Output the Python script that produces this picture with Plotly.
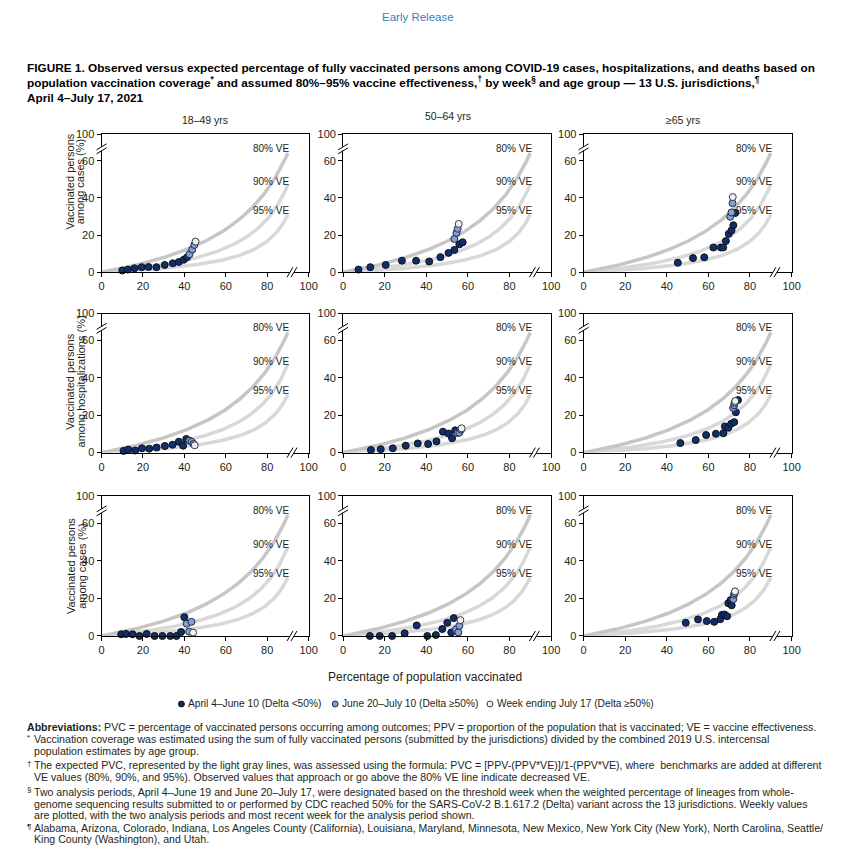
import numpy as np
import plotly.graph_objects as go

W, H = 842, 849

# ---------------- data ----------------
age_groups = ["18–49 yrs", "50–64 yrs", "≥65 yrs"]
row_titles = [["Vaccinated persons", "among cases (%)"],
              ["Vaccinated persons", "among hospitalizations (%)"],
              ["Vaccinated persons", "among cases (%)"]]
series_names = ["April 4–June 10 (Delta <50%)",
                "June 20–July 10 (Delta ≥50%)",
                "Week ending July 17 (Delta ≥50%)"]
ve_levels = [0.80, 0.90, 0.95]
ve_labels = ["80% VE", "90% VE", "95% VE"]
x_ticks = [0, 20, 40, 60, 80, 100]
y_tick_labels = ["0", "20", "40", "60", "100"]

# Row 1 – cases
cas_1849_early_x = [10.0, 12.7, 15.9, 19.4, 22.7, 26.5, 30.5, 34.4, 37.3, 39.7, 41.3]
cas_1849_early_y = [0.9, 1.4, 2.1, 2.7, 2.8, 2.7, 3.9, 4.8, 5.5, 6.7, 8.0]
cas_1849_delta_x = [42.5, 43.8, 44.8]
cas_1849_delta_y = [9.7, 12.2, 14.7]
cas_1849_last_x = [45.4]
cas_1849_last_y = [16.5]

cas_5064_early_x = [7.4, 13.1, 20.5, 28.3, 35.1, 41.4, 46.8, 50.7, 53.5, 55.9, 57.5]
cas_5064_early_y = [1.4, 2.7, 3.9, 6.2, 6.2, 5.8, 8.1, 10.4, 12.0, 15.0, 16.1]
cas_5064_delta_x = [53.5, 54.5, 55.1]
cas_5064_delta_y = [17.9, 21.2, 23.4]
cas_5064_last_x = [55.6]
cas_5064_last_y = [26.0]

cas_65_early_x = [45.3, 52.6, 58.0, 62.4, 66.0, 67.1, 68.4, 69.8, 71.1, 72.0, 72.9]
cas_65_early_y = [5.1, 7.6, 8.0, 13.3, 13.3, 13.3, 16.8, 20.7, 22.5, 25.3, 31.9]
cas_65_delta_x = [70.5, 71.1, 71.6]
cas_65_delta_y = [29.9, 32.2, 37.2]
cas_65_last_x = [71.7]
cas_65_last_y = [40.5]

# Row 2 – hospitalizations
hos_1849_early_x = [10.6, 12.9, 16.2, 19.5, 23.0, 26.6, 30.6, 34.3, 37.3, 39.4, 40.9]
hos_1849_early_y = [0.9, 1.6, 1.1, 2.3, 2.1, 2.7, 3.5, 4.2, 5.8, 3.7, 7.3]
hos_1849_delta_x = [42.4, 43.5, 44.4]
hos_1849_delta_y = [6.4, 5.8, 4.6]
hos_1849_last_x = [45.0]
hos_1849_last_y = [3.9]

hos_5064_early_x = [13.4, 18.1, 23.9, 30.1, 35.9, 40.9, 44.9, 48.0, 50.7, 52.4, 53.9]
hos_5064_early_y = [1.4, 1.8, 2.3, 3.7, 4.9, 4.6, 6.0, 11.2, 10.2, 7.7, 11.9]
hos_5064_delta_x = [55.0, 55.9, 56.7]
hos_5064_delta_y = [10.5, 10.7, 12.3]
hos_5064_last_x = [57.0]
hos_5064_last_y = [13.0]

hos_65_early_x = [46.5, 53.9, 58.9, 63.6, 67.2, 67.9, 69.6, 70.9, 72.4, 73.2, 74.2]
hos_65_early_y = [5.1, 6.7, 9.4, 10.1, 10.4, 14.0, 13.3, 15.4, 16.3, 21.6, 28.1]
hos_65_delta_x = [71.9, 72.4, 72.6]
hos_65_delta_y = [23.9, 25.3, 26.6]
hos_65_last_x = [72.9]
hos_65_last_y = [27.6]

# Row 3 – deaths (labelled "cases" in the source)
dea_1849_early_x = [9.5, 11.8, 15.0, 18.3, 21.8, 25.6, 29.4, 33.2, 36.2, 38.4, 40.0]
dea_1849_early_y = [0.9, 1.1, 0.9, 0.0, 1.1, 0.0, 0.0, 0.0, 0.0, 2.1, 10.0]
dea_1849_delta_x = [41.1, 43.4, 42.3]
dea_1849_delta_y = [6.5, 7.5, 2.3]
dea_1849_last_x = [44.2]
dea_1849_last_y = [1.8]

dea_5064_early_x = [12.9, 17.6, 23.6, 29.6, 35.4, 40.5, 44.6, 47.7, 50.1, 52.0, 53.2]
dea_5064_early_y = [0.0, 0.0, 0.0, 1.4, 5.6, 0.0, 0.5, 3.7, 7.0, 1.9, 9.5]
dea_5064_delta_x = [54.3, 55.4, 55.9]
dea_5064_delta_y = [3.5, 1.9, 5.4]
dea_5064_last_x = [56.4]
dea_5064_last_y = [8.4]

dea_65_early_x = [49.1, 55.0, 59.2, 62.8, 65.7, 66.5, 67.7, 69.0, 69.6, 70.7, 71.2]
dea_65_early_y = [7.0, 8.8, 7.9, 7.5, 8.9, 11.2, 11.4, 10.5, 17.4, 19.1, 16.3]
dea_65_delta_x = [72.0, 72.3, 72.6]
dea_65_delta_y = [19.6, 21.9, 22.8]
dea_65_last_x = [72.8]
dea_65_last_y = [23.7]

panels = [
    [(cas_1849_early_x, cas_1849_early_y), (cas_1849_delta_x, cas_1849_delta_y), (cas_1849_last_x, cas_1849_last_y)],
    [(cas_5064_early_x, cas_5064_early_y), (cas_5064_delta_x, cas_5064_delta_y), (cas_5064_last_x, cas_5064_last_y)],
    [(cas_65_early_x, cas_65_early_y), (cas_65_delta_x, cas_65_delta_y), (cas_65_last_x, cas_65_last_y)],
    [(hos_1849_early_x, hos_1849_early_y), (hos_1849_delta_x, hos_1849_delta_y), (hos_1849_last_x, hos_1849_last_y)],
    [(hos_5064_early_x, hos_5064_early_y), (hos_5064_delta_x, hos_5064_delta_y), (hos_5064_last_x, hos_5064_last_y)],
    [(hos_65_early_x, hos_65_early_y), (hos_65_delta_x, hos_65_delta_y), (hos_65_last_x, hos_65_last_y)],
    [(dea_1849_early_x, dea_1849_early_y), (dea_1849_delta_x, dea_1849_delta_y), (dea_1849_last_x, dea_1849_last_y)],
    [(dea_5064_early_x, dea_5064_early_y), (dea_5064_delta_x, dea_5064_delta_y), (dea_5064_last_x, dea_5064_last_y)],
    [(dea_65_early_x, dea_65_early_y), (dea_65_delta_x, dea_65_delta_y), (dea_65_last_x, dea_65_last_y)],
]

# ---------------- styling ----------------
TXT = "#231f20"
SANS = "Liberation Sans, Arial, sans-serif"
marker_fill = ["#0e2e6e", "#86a1cf", "#eef2f8"]
marker_line = ["#111111", "#1b2a4a", "#3a3a3a"]
curve_colors = ["#c6c6c6", "#d8d8d8", "#d8d8d8"]

Y_TOP = 74.4          # axis position where the broken axis shows "100"
Y_BREAK = 66.5
X_BREAK = 92

col_dom = [(100, 310), (345, 556), (589, 800)]
row_dom = [(130, 270), (312, 453), (497, 639)]


def px(x):
    return x / W


def py(y):
    return 1 - y / H


fig = go.Figure()
layout = dict(width=W, height=H, margin=dict(l=0, r=0, t=0, b=0),
              paper_bgcolor="white", plot_bgcolor="white", showlegend=False)
annotations = []
shapes = []

ppv = np.linspace(0, 0.9, 181)


def note(x, y, text, size, xanchor="center", color=TXT, angle=0):
    annotations.append(dict(x=px(x), y=py(y), xref="paper", yref="paper", text=text,
                            showarrow=False, xanchor=xanchor, yanchor="middle",
                            textangle=angle, font=dict(family=SANS, size=size, color=color)))


for k in range(9):
    r, c = divmod(k, 3)
    ax = "" if k == 0 else str(k + 1)
    xa, ya = "x" + ax, "y" + ax
    layout["xaxis" + ax] = dict(
        domain=[px(col_dom[c][0]), px(col_dom[c][1])], range=[0, 100], anchor=ya,
        tickvals=x_ticks, ticks="outside", ticklen=4, tickcolor="black",
        showline=True, linecolor="black", linewidth=1, mirror=True,
        showgrid=False, zeroline=False,
        tickfont=dict(family=SANS, size=11, color=TXT))
    layout["yaxis" + ax] = dict(
        domain=[py(row_dom[r][1]), py(row_dom[r][0])], range=[0, Y_TOP], anchor=xa,
        tickvals=[0, 20, 40, 60, Y_TOP], ticktext=y_tick_labels,
        ticks="outside", ticklen=4, tickcolor="black",
        showline=True, linecolor="black", linewidth=1, mirror=True,
        showgrid=False, zeroline=False,
        tickfont=dict(family=SANS, size=11, color=TXT))

    # expected PVC curves: PVC = (PPV - PPV*VE) / (1 - PPV*VE)
    for ve, col in zip(ve_levels[::-1], curve_colors[::-1]):
        pvc = (ppv - ppv * ve) / (1 - ppv * ve) * 100
        fig.add_trace(go.Scatter(x=ppv * 100, y=pvc, mode="lines", xaxis=xa, yaxis=ya,
                                 line=dict(color=col, width=3.5), hoverinfo="skip"))
    # observed points
    for s, (xs, ys) in enumerate(panels[k]):
        fig.add_trace(go.Scatter(x=xs, y=ys, mode="markers", xaxis=xa, yaxis=ya,
                                 name=series_names[s], cliponaxis=False,
                                 marker=dict(size=7, color=marker_fill[s],
                                             line=dict(color=marker_line[s], width=1))))
    # VE labels
    for lab, yv in zip(ve_labels, [66.8, 48.8, 33.3]):
        annotations.append(dict(x=82, y=yv, xref=xa, yref=ya, text=lab, showarrow=False,
                                xanchor="center", yanchor="middle",
                                font=dict(family=SANS, size=10, color=TXT)))
    # axis break marks (y axis)
    shapes.append(dict(type="rect", xref=xa + " domain", yref=ya, layer="above",
                       xsizemode="pixel", xanchor=0, x0=-2, x1=2,
                       ysizemode="pixel", yanchor=Y_BREAK, y0=-2, y1=2,
                       fillcolor="white", line=dict(width=0)))
    for off in (-2, 2):
        shapes.append(dict(type="line", xref=xa + " domain", yref=ya, layer="above",
                           xsizemode="pixel", xanchor=0, x0=-5, x1=5,
                           ysizemode="pixel", yanchor=Y_BREAK, y0=off - 3, y1=off + 3,
                           line=dict(color="black", width=1)))
    # axis break marks (x axis)
    shapes.append(dict(type="rect", xref=xa, yref=ya + " domain", layer="above",
                       xsizemode="pixel", xanchor=X_BREAK, x0=-2, x1=2,
                       ysizemode="pixel", yanchor=0, y0=-2, y1=2,
                       fillcolor="white", line=dict(width=0)))
    for off in (-2, 2):
        shapes.append(dict(type="line", xref=xa, yref=ya + " domain", layer="above",
                           xsizemode="pixel", xanchor=X_BREAK, x0=off - 3, x1=off + 3,
                           ysizemode="pixel", yanchor=0, y0=-5, y1=5,
                           line=dict(color="black", width=1)))

# column headers
for (cx, cy), lab in zip([(205, 116), (451, 112), (690, 116)], age_groups):
    note(cx, cy, lab, 10.5)

# row titles
for (cy, x1, x2), lines in zip([(178, 68, 79), (381, 68, 79), (568, 69, 80)], row_titles):
    for xx, t in zip((x1, x2), lines):
        note(xx, cy, t, 11, angle=-90)

# header texts
note(421, 11, "Early Release", 11.5, color="#3b7dc4")
title_lines = [
    "FIGURE 1. Observed versus expected percentage of fully vaccinated persons among COVID-19 cases, hospitalizations, and deaths based on",
    "population vaccination coverage<sup>*</sup> and assumed 80%–95% vaccine effectiveness,<sup>†</sup> by week<sup>§</sup> and age group — 13 U.S. jurisdictions,<sup>¶</sup>",
    "April 4–July 17, 2021",
]
for yy, t in zip([63, 78, 93], title_lines):
    note(22, yy, "<b>" + t + "</b>", 11.8, xanchor="left", color="black")

note(428, 681, "Percentage of population vaccinated", 12)

# legend (symbols + text)
LEG_Y = 708
for s, (mx, tx) in enumerate([(181, 186), (337, 342), (494, 499)]):
    shapes.append(dict(type="circle", xref="paper", yref="paper",
                       x0=px(mx - 3), x1=px(mx + 3), y0=py(LEG_Y + 3), y1=py(LEG_Y - 3),
                       fillcolor=marker_fill[s], line=dict(color=marker_line[s], width=1)))
    note(tx, LEG_Y, series_names[s], 10.2, xanchor="left")

# footnotes
foot = [
    (22, 731, "<b>Abbreviations:</b> PVC = percentage of vaccinated persons occurring among outcomes; PPV = proportion of the population that is vaccinated; VE = vaccine effectiveness."),
    (29, 744, "Vaccination coverage was estimated using the sum of fully vaccinated persons (submitted by the jurisdictions) divided by the combined 2019 U.S. intercensal"),
    (29, 756, "population estimates by age group."),
    (29, 770, "The expected PVC, represented by the light gray lines, was assessed using the formula: PVC = [PPV-(PPV*VE)]/1-(PPV*VE), where  benchmarks are added at different"),
    (29, 782, "VE values (80%, 90%, and 95%). Observed values that approach or go above the 80% VE line indicate decreased VE."),
    (29, 797, "Two analysis periods, April 4–June 19 and June 20–July 17, were designated based on the threshold week when the weighted percentage of lineages from whole-"),
    (29, 809, "genome sequencing results submitted to or performed by CDC reached 50% for the SARS-CoV-2 B.1.617.2 (Delta) variant across the 13 jurisdictions. Weekly values"),
    (29, 821, "are plotted, with the two analysis periods and most recent week for the analysis period shown."),
    (29, 834, "Alabama, Arizona, Colorado, Indiana, Los Angeles County (California), Louisiana, Maryland, Minnesota, New Mexico, New York City (New York), North Carolina, Seattle/"),
    (29, 845, "King County (Washington), and Utah."),
]
for xx, yy, t in foot:
    note(xx, yy, t, 10.6, xanchor="left")
# footnote reference marks
for yy, sym in [(742, "*"), (768, "†"), (795, "§"), (832, "¶")]:
    note(22, yy, sym, 8, xanchor="left")

layout["annotations"] = annotations
layout["shapes"] = shapes
fig.update_layout(**layout)

# remove the page's default body margin so the 842x849 figure fills the window exactly
fix_page = ("document.body.style.margin='0';"
            "document.body.style.overflow='hidden';"
            "document.documentElement.style.overflow='hidden';")
fig.write_html("out.html", post_script=fix_page, config={"displayModeBar": False})
